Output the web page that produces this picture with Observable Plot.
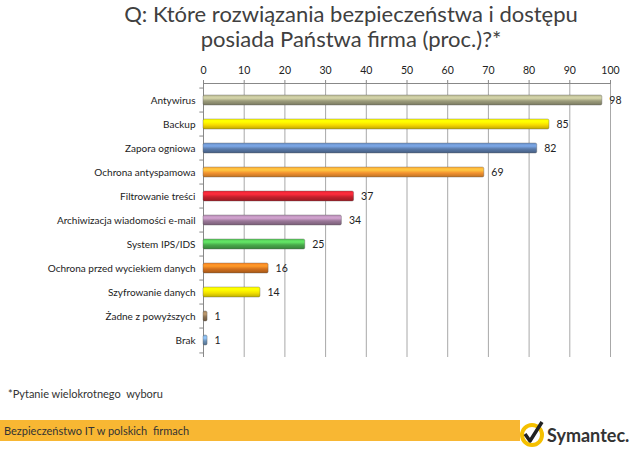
<!DOCTYPE html>
<html>
<head>
<meta charset="utf-8">
<script src="https://cdn.jsdelivr.net/npm/d3@7"></script>
<script src="https://cdn.jsdelivr.net/npm/@observablehq/plot@0.6"></script>
<style>
  html, body { margin: 0; padding: 0; background: #fff; }
  #root { position: relative; width: 640px; height: 452px; overflow: hidden; font-family: Lato, "Open Sans", sans-serif; }
  .title { position: absolute; left: 0; width: 702px; top: 1px; text-align: center; font-size: 22px; line-height: 25px; color: #404040; }
  #chart { position: absolute; left: 0; top: 55px; }
  .note { position: absolute; left: 8px; top: 387px; font-size: 11px; color: #333; }
  .band { position: absolute; left: 0; top: 420px; width: 520px; height: 21px; background: #f8b733; }
  .band span { position: absolute; left: 4px; top: 4px; font-size: 11px; color: #333; }
  #logo { position: absolute; left: 518px; top: 418px; }
</style>
</head>
<body>
<div id="root">
  <div class="title">Q: Które rozwiązania bezpieczeństwa i dostępu<br>posiada Państwa firma (proc.)?*</div>
  <div id="chart"></div>
  <div class="note">*Pytanie wielokrotnego&nbsp; wyboru</div>
  <div class="band"><span>Bezpieczeństwo IT w polskich&nbsp; firmach</span></div>
  <svg id="logo" width="122" height="34">
    <circle cx="14" cy="17" r="10" fill="#fff" stroke="#f5c000" stroke-width="4"></circle>
    <path d="M7 16 L12 23 L24 4" fill="none" stroke="#222" stroke-width="3.5" stroke-linejoin="round"></path>
    <text x="29" y="24" font-family="Lato, 'Open Sans', sans-serif" font-weight="bold" font-size="18" fill="#333">Symantec.</text>
  </svg>
</div>
<script>
const categories = [
  "Antywirus",
  "Backup",
  "Zapora ogniowa",
  "Ochrona antyspamowa",
  "Filtrowanie treści",
  "Archiwizacja wiadomości e-mail",
  "System IPS/IDS",
  "Ochrona przed wyciekiem danych",
  "Szyfrowanie danych",
  "Żadne z powyższych",
  "Brak"
];
const values = [98, 85, 82, 69, 37, 34, 25, 16, 14, 1, 1];
const colors = ["#9c9c7c", "#f7d900", "#5a7aa8", "#f39230", "#c3202c", "#9a7898", "#48a84a", "#d2701e", "#f2e000", "#8a7050", "#6c92b8"];
const xTicks = [0, 10, 20, 30, 40, 50, 60, 70, 80, 90, 100];

const data = categories.map((c, i) => ({category: c, value: values[i], grad: `url(#bargrad${i})`}));

const plot = Plot.plot({
  width: 640,
  height: 304,
  marginTop: 28,
  marginBottom: 2,
  marginLeft: 203,
  marginRight: 30,
  style: {fontFamily: "Lato, 'Open Sans', sans-serif", fontSize: "10px", color: "#222", background: "transparent"},
  x: {domain: [0, 100], axis: null, label: null},
  y: {domain: categories, paddingInner: 0.6, paddingOuter: 0.3, axis: null, label: null},
  color: {type: "identity"},
  marks: [
    Plot.ruleX(xTicks, {stroke: "#a8a8a8", strokeWidth: 1}),
    Plot.axisX({anchor: "top", ticks: xTicks, tickSize: 4, tickPadding: 6, stroke: "#888", fill: "#222", fontSize: 10.5, label: null}),
    Plot.frame({anchor: "top", stroke: "#888"}),
    Plot.ruleX([0], {stroke: "#888"}),
    Plot.ruleY(categories, {y: d => d, x1: -0.9, x2: 0, dy: -12.45, stroke: "#888"}),
    Plot.ruleY([categories[categories.length - 1]], {y: d => d, x1: -0.9, x2: 0, dy: 12.45, stroke: "#888"}),
    Plot.barX(data, {y: "category", x: "value", fill: "grad", stroke: "#555", strokeOpacity: 0.45, strokeWidth: 0.8, rx: 1.5}),
    Plot.axisY({anchor: "left", tickSize: 0, tickPadding: 8, fontSize: 10, fill: "#222", label: null}),
    Plot.text(data, {y: "category", x: "value", text: d => String(d.value), textAnchor: "start", dx: 7, fontSize: 10.5, fill: "#222"})
  ]
});

const svg = d3.select(plot);
const defs = svg.insert("defs", ":first-child");
colors.forEach((c, i) => {
  const base = d3.color(c);
  const g = defs.append("linearGradient").attr("id", `bargrad${i}`).attr("x1", 0).attr("y1", 0).attr("x2", 0).attr("y2", 1);
  g.append("stop").attr("offset", "0%").attr("stop-color", base.brighter(0.5));
  g.append("stop").attr("offset", "30%").attr("stop-color", base.brighter(0.9));
  g.append("stop").attr("offset", "60%").attr("stop-color", base);
  g.append("stop").attr("offset", "100%").attr("stop-color", base.darker(0.7));
});
document.getElementById("chart").appendChild(plot);
</script>
</body>
</html>
